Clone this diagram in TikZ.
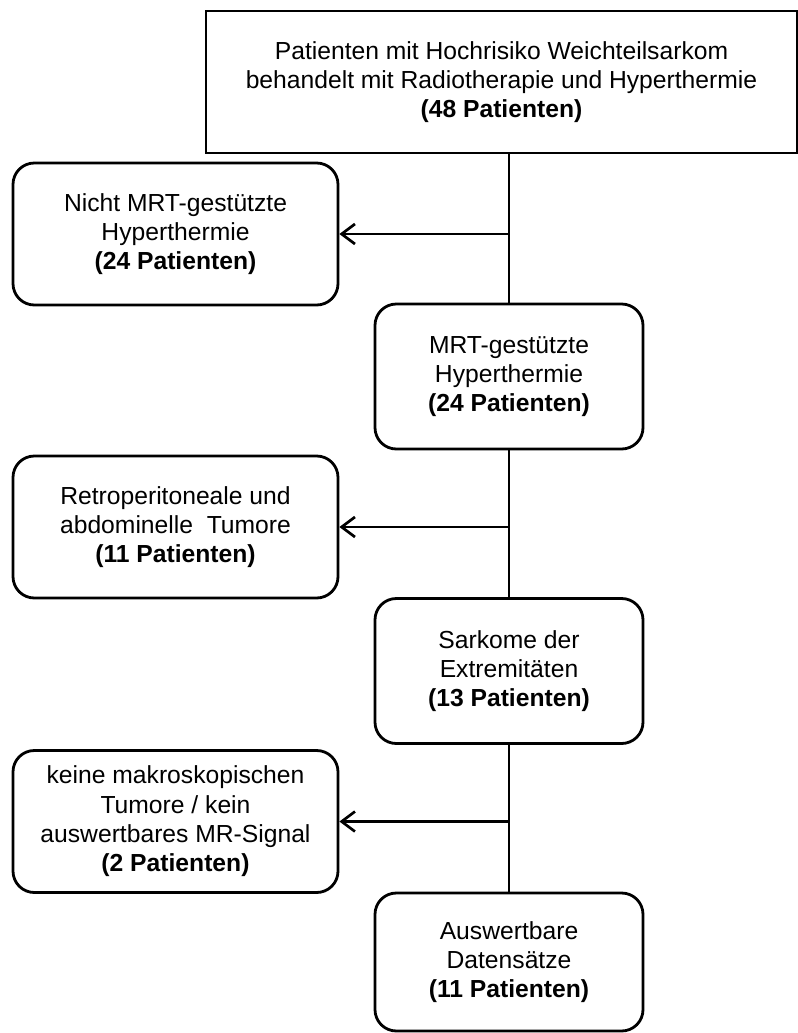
\documentclass[tikz,border=0pt]{standalone}
\usepackage{fontspec}
\setmainfont{Liberation Sans}
\usetikzlibrary{arrows.meta}
\begin{document}
\begin{tikzpicture}[x=0.75pt,y=-0.75pt,
  every node/.style={font=\fontsize{18.5}{22}\selectfont, align=center, inner sep=0pt},
  sqbox/.style={draw, line width=2.1pt, minimum width=443.25pt, minimum height=106.5pt},
  leftbox/.style={draw, line width=2.1pt, rounded corners=16pt, minimum width=243.75pt, minimum height=106.5pt},
  rightbox/.style={draw, line width=2.1pt, rounded corners=16pt, minimum width=201pt, minimum height=108.75pt},
  conn/.style={line width=2pt},
  arr/.style={line width=2pt, -{Straight Barb[length=10pt, width=15pt, line width=2pt]}}
]
\useasboundingbox (0,0) rectangle (798,1033);
\node[sqbox] (top) at (501.5,82) {Patienten mit Hochrisiko Weichteilsarkom\\behandelt mit Radiotherapie und Hyperthermie\\\textbf{(48 Patienten)}};
\node[leftbox] (l1) at (175.5,234) {Nicht MRT-gestützte\\Hyperthermie\\\textbf{(24 Patienten)}};
\node[rightbox] (r1) at (509,376.5) {MRT-gestützte\\Hyperthermie\\\textbf{(24 Patienten)}};
\node[leftbox] (l2) at (175.5,527) {Retroperitoneale und\\abdominelle\ \ Tumore\\\textbf{(11 Patienten)}};
\node[rightbox] (r2) at (509,671) {Sarkome der\\Extremitäten\\\textbf{(13 Patienten)}};
\node[leftbox] (l3) at (175.5,821.5) {keine makroskopischen\\Tumore / kein\\auswertbares MR-Signal\\\textbf{(2 Patienten)}};
\node[rightbox, minimum height=103.5pt] (r3) at (509,962) {Auswertbare\\Datensätze\\\textbf{(11 Patienten)}};
\draw[conn] (r1.north |- top.south) -- (r1.north);
\draw[conn] (r1.south) -- (r2.north);
\draw[conn] (r2.south) -- (r3.north);
\draw[arr] (r1.north |- l1.east) -- (l1.east);
\draw[arr] (r1.south |- l2.east) -- (l2.east);
\draw[arr] (r2.south |- l3.east) -- (l3.east);
\end{tikzpicture}
\end{document}
